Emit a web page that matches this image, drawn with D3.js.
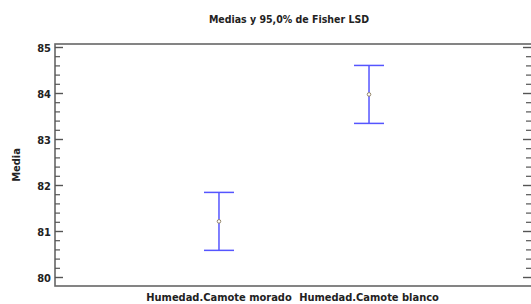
<html>
<head>
<script src="https://cdn.jsdelivr.net/npm/d3@7"></script>
<style>
  body { margin: 0; background: #fff; }
  text { font-family: "Liberation Sans Narrow", "DejaVu Sans Condensed", sans-serif; font-weight: bold; }
</style>
</head>
<body>
<div id="chart"></div>
<script>
var categories = ["Humedad.Camote morado", "Humedad.Camote blanco"];
var means = [81.22, 83.98];
var lower = [80.59, 83.35];
var upper = [81.85, 84.61];
var yTicks = [80, 81, 82, 83, 84, 85];

var W = 531, H = 304;
var plotL = 55, plotR = 533, plotT = 44, plotB = 286;

var svg = d3.select("#chart").append("svg").attr("width", W).attr("height", H);

var y = d3.scaleLinear().domain([80, 85]).range([277.5, 47.5]);
var x = d3.scalePoint().domain(categories).range([plotL, plotR]).padding(1.093);

// title
svg.append("text")
  .attr("x", 289).attr("y", 23)
  .attr("text-anchor", "middle")
  .style("font-size", "10.5px")
  .style("fill", "#222")
  .text("Medias y 95,0%  de Fisher LSD");

// frame
svg.append("rect")
  .attr("x", plotL).attr("y", plotT)
  .attr("width", plotR - plotL).attr("height", plotB - plotT)
  .attr("fill", "none").attr("stroke", "#666").attr("stroke-width", 1.6);

// ticks, major and minor, on both sides (inside the frame)
var minor = d3.range(80, 85.001, 0.2);
minor.forEach(function (v) {
  var isMajor = Math.abs(v - Math.round(v)) < 1e-6;
  var len = isMajor ? 8 : 5;
  svg.append("line")
    .attr("x1", plotL).attr("x2", plotL + len)
    .attr("y1", y(v)).attr("y2", y(v))
    .attr("stroke", "#555").attr("stroke-width", isMajor ? 1.4 : 1.2);
  svg.append("line")
    .attr("x1", plotR - len - 2).attr("x2", plotR)
    .attr("y1", y(v)).attr("y2", y(v))
    .attr("stroke", "#555").attr("stroke-width", isMajor ? 1.4 : 1.2);
});

svg.selectAll(".ylab").data(yTicks).enter().append("text")
  .attr("x", 51).attr("y", function (d) { return y(d) + 4; })
  .attr("text-anchor", "end")
  .style("font-size", "11px").style("fill", "#222")
  .text(function (d) { return d; });

svg.append("text")
  .attr("transform", "translate(20,165) rotate(-90)")
  .attr("text-anchor", "middle")
  .style("font-size", "11px").style("fill", "#222")
  .text("Media");

// category labels
svg.selectAll(".xlab").data(categories).enter().append("text")
  .attr("x", function (d) { return x(d); }).attr("y", 301)
  .attr("text-anchor", "middle")
  .style("font-size", "11px").style("fill", "#222")
  .text(function (d) { return d; });

// error bars
var g = svg.selectAll(".bar").data(categories).enter().append("g");
g.append("line")
  .attr("x1", function (d) { return x(d); }).attr("x2", function (d) { return x(d); })
  .attr("y1", function (d, i) { return y(upper[i]); }).attr("y2", function (d, i) { return y(lower[i]); })
  .attr("stroke", "#5555ff").attr("stroke-width", 1.5);
g.append("line")
  .attr("x1", function (d) { return x(d) - 15; }).attr("x2", function (d) { return x(d) + 15; })
  .attr("y1", function (d, i) { return y(upper[i]); }).attr("y2", function (d, i) { return y(upper[i]); })
  .attr("stroke", "#5555ff").attr("stroke-width", 1.5);
g.append("line")
  .attr("x1", function (d) { return x(d) - 15; }).attr("x2", function (d) { return x(d) + 15; })
  .attr("y1", function (d, i) { return y(lower[i]); }).attr("y2", function (d, i) { return y(lower[i]); })
  .attr("stroke", "#5555ff").attr("stroke-width", 1.5);
g.append("circle")
  .attr("cx", function (d) { return x(d); })
  .attr("cy", function (d, i) { return y(means[i]); })
  .attr("r", 1.8)
  .attr("fill", "#fff").attr("stroke", "#8a7a5a").attr("stroke-width", 0.9);
</script>
</body>
</html>
